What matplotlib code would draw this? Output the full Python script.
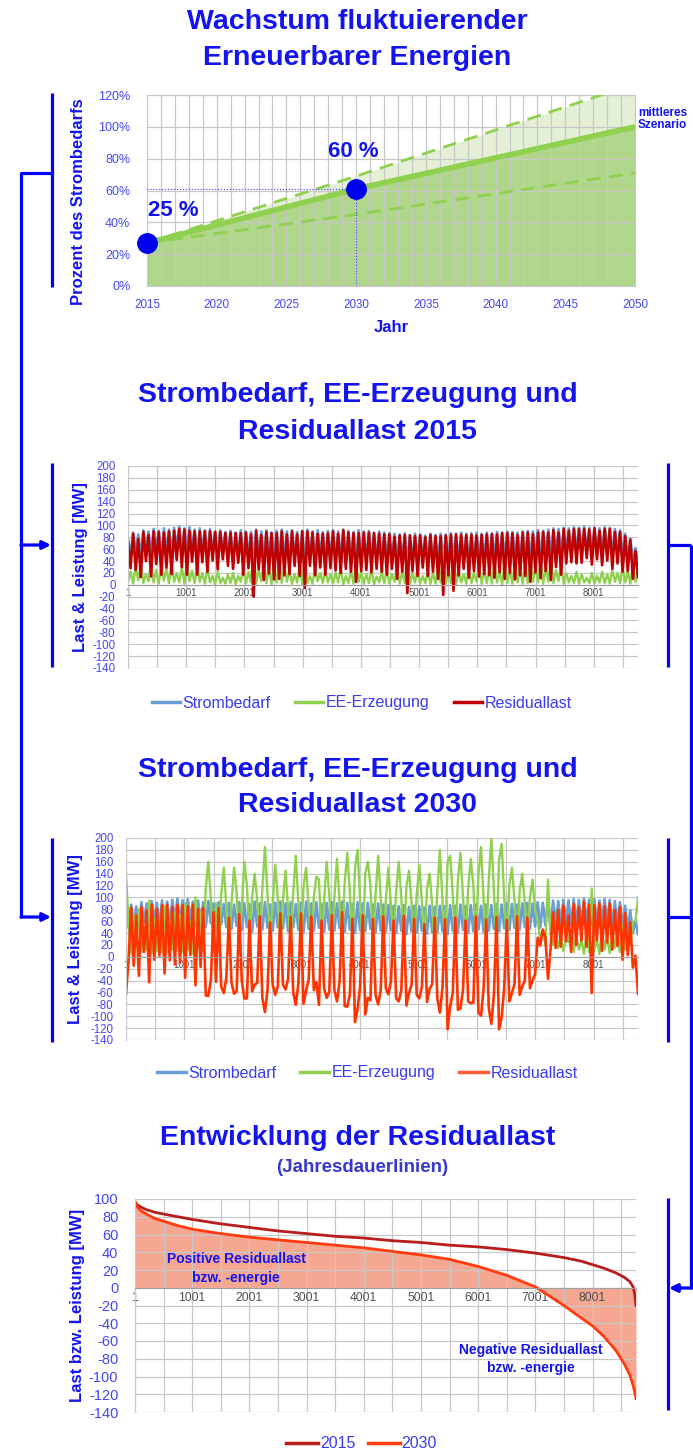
import numpy as np
import matplotlib
matplotlib.use("Agg")
import matplotlib.pyplot as plt
from matplotlib.lines import Line2D

plt.rcParams['font.family'] = ['Liberation Sans', 'DejaVu Sans']
plt.rcParams['axes.unicode_minus'] = False

BLUE = '#1414f0'
TICKBLUE = '#4646f5'
GRID = '#c8c8c8'

# --- Wachstum EE (Prozent des Strombedarfs)
years = [2015, 2030, 2050]
ee_mid = [27, 61, 100]
ee_upper = [27, 69, 127]
ee_lower = [27, 45, 71]
marked_years = [2015, 2030]
marked_share = [27, 61]
marked_labels = ['25 %', '60 %']

# --- Stundenwerte (Stichproben über das Jahr, MW)
demand = [
    78, 50, 88, 55, 85, 48, 92, 58, 90, 52, 94, 60, 91, 50, 95, 57, 93, 54, 96, 62,
    98, 60, 95, 55, 97, 63, 93, 52, 95, 58, 92, 50, 94, 56, 90, 48, 92, 55, 89, 50,
    91, 47, 88, 52, 92, 45, 90, 50, 89, 42, 93, 51, 90, 46, 92, 49, 88, 44, 91, 50,
    93, 48, 90, 43, 92, 50, 89, 45, 91, 41, 93, 47, 90, 44, 92, 49, 89, 42, 91, 46,
    92, 44, 90, 48, 93, 42, 91, 46, 89, 40, 92, 45, 90, 43, 91, 47, 88, 41, 90, 44,
    88, 42, 87, 45, 86, 40, 85, 44, 87, 38, 84, 43, 86, 41, 85, 44, 83, 39, 86, 42,
    84, 40, 86, 43, 85, 38, 87, 44, 86, 41, 88, 45, 86, 40, 87, 43, 88, 46, 86, 42,
    88, 44, 87, 47, 89, 43, 88, 48, 90, 45, 89, 49, 88, 46, 90, 50, 91, 47, 90, 51,
    92, 49, 91, 53, 93, 50, 95, 55, 94, 52, 96, 56, 95, 53, 97, 58, 96, 55, 98, 57,
    96, 54, 97, 58, 95, 55, 97, 59, 96, 52, 94, 56, 92, 50, 86, 45, 78, 40, 62, 38,
]
ee_2015 = [
    5, 22, 2, 30, 8, 35, 3, 18, 6, 38, 4, 25, 2, 33, 7, 28, 3, 36, 5, 20,
    4, 30, 2, 38, 6, 24, 3, 35, 5, 20, 2, 28, 4, 15, 1, 22, 3, 12, 2, 18,
    3, 20, 1, 15, 5, 28, 2, 22, 4, 62, 2, 25, 6, 38, 3, 30, 1, 35, 4, 40,
    3, 32, 5, 25, 2, 18, 4, 30, 1, 46, 3, 15, 2, 28, 6, 20, 3, 25, 4, 18,
    2, 20, 4, 28, 1, 15, 3, 24, 2, 35, 5, 22, 2, 18, 3, 26, 1, 14, 4, 22,
    3, 25, 2, 18, 5, 30, 2, 22, 3, 52, 1, 20, 4, 26, 2, 15, 3, 24, 2, 20,
    2, 30, 4, 60, 2, 22, 3, 54, 1, 25, 4, 18, 2, 28, 3, 20, 5, 32, 2, 24,
    3, 28, 2, 35, 4, 22, 1, 38, 3, 25, 2, 40, 4, 30, 2, 35, 3, 42, 5, 30,
    4, 38, 2, 30, 5, 42, 3, 25, 6, 35, 2, 20, 4, 15, 3, 22, 2, 18, 4, 12,
    3, 20, 2, 15, 4, 22, 3, 18, 2, 25, 5, 20, 3, 28, 4, 22, 2, 30, 5, 25,
]
ee_2030 = [
    140, 55, 5, 70, 15, 80, 8, 50, 12, 95, 6, 65, 10, 48, 8, 85, 5, 60, 12, 75,
    10, 70, 8, 90, 12, 60, 5, 100, 15, 75, 10, 115, 160, 95, 15, 90, 10, 105, 150, 85,
    25, 90, 150, 110, 20, 85, 160, 120, 28, 100, 140, 95, 22, 115, 185, 105, 30, 90, 155, 100,
    20, 95, 145, 80, 25, 110, 170, 90, 18, 120, 150, 85, 22, 100, 135, 130, 28, 95, 160, 105,
    22, 100, 165, 90, 18, 125, 175, 110, 25, 150, 180, 95, 20, 140, 160, 120, 24, 105, 170, 100,
    20, 95, 150, 85, 25, 110, 160, 100, 18, 120, 145, 90, 22, 105, 155, 95, 28, 115, 140, 88,
    18, 110, 180, 95, 22, 160, 170, 105, 20, 130, 175, 100, 25, 115, 165, 120, 20, 140, 185, 95,
    25, 130, 200, 110, 22, 165, 190, 100, 28, 120, 150, 95, 20, 110, 140, 90, 25, 100, 130, 80,
    60, 30, 45, 20, 130, 38, 20, 40, 15, 35, 10, 30, 25, 45, 8, 38, 12, 28, 5, 40,
    8, 115, 10, 30, 5, 45, 12, 35, 6, 40, 15, 38, 8, 55, 12, 42, 20, 58, 60, 100,
]

# --- Jahresdauerlinien der Residuallast
dur_hours = [1, 30, 100, 200, 350, 500, 750, 1001, 1500, 2001, 2500, 3001, 3500, 4001, 4500,
             5001, 5500, 6001, 6500, 7001, 7500, 7800, 8001, 8200, 8400, 8550, 8650, 8710, 8740, 8760]
dur_2015 = [97, 94, 91, 88, 85, 83, 80, 77, 72, 68, 64, 61, 58, 56, 53,
            51, 48, 46, 43, 39, 34, 30, 26, 22, 17, 12, 7, 1, -8, -20]
dur_2030 = [97, 92, 87, 83, 78, 75, 70, 66, 61, 57, 54, 51, 48, 45, 41,
            37, 32, 24, 14, 1, -20, -34, -43, -55, -70, -85, -98, -110, -118, -125]

hour_ticks = [1, 1001, 2001, 3001, 4001, 5001, 6001, 7001, 8001]

C_DEMAND = '#6b9fd3'
C_EE = '#8fd04f'
C_RES15 = '#c00000'
C_RES30 = '#ff3300'

W, H = 693, 1453
fig = plt.figure(figsize=(W / 100, H / 100), dpi=100)


def rect(x0, y0, x1, y1):
    return [x0 / W, 1 - y1 / H, (x1 - x0) / W, (y1 - y0) / H]


# overlay for the connector brackets (pixel coordinates)
deco = fig.add_axes([0, 0, 1, 1], zorder=-1)
deco.set_xlim(0, W)
deco.set_ylim(H, 0)
deco.axis('off')
lk = dict(color='#0000ff', lw=2.3, solid_capstyle='butt')
for x, y0, y1 in [(52, 93, 287), (52, 463, 667), (52, 838, 1042),
                  (668, 463, 667), (668, 838, 1042), (668, 1198, 1410)]:
    deco.plot([x, x], [y0, y1], **lk)
deco.plot([52, 21, 21], [173, 173, 918], **lk)
deco.plot([668, 691], [545, 545], **lk)
deco.plot([668, 691], [917, 917], **lk)
deco.plot([691, 691], [545, 1289], **lk)
ak = dict(arrowstyle='-|>', color='#0000ff', lw=2.3, mutation_scale=12, shrinkA=0, shrinkB=0)
deco.annotate('', xy=(51, 545), xytext=(21, 545), arrowprops=ak)
deco.annotate('', xy=(51, 917), xytext=(21, 917), arrowprops=ak)
deco.annotate('', xy=(669, 1288), xytext=(691, 1288), arrowprops=ak)


def title(lines, ys, size=20.5):
    for t, y in zip(lines, ys):
        fig.text(0.516, 1 - y / H, t, ha='center', va='center', fontsize=size,
                 fontweight='bold', color=BLUE)


title(['Wachstum fluktuierender', 'Erneuerbarer Energien'], [22, 58])
title(['Strombedarf, EE-Erzeugung und', 'Residuallast 2015'], [395, 432])
title(['Strombedarf, EE-Erzeugung und', 'Residuallast 2030'], [770, 805])
title(['Entwicklung der Residuallast'], [1138])
fig.text(0.522, 1 - 1167 / H, '(Jahresdauerlinien)', ha='center', va='center',
         fontsize=13.5, fontweight='bold', color='#3838d0')

# ---------------- chart 1
ax1 = fig.add_axes(rect(147, 95, 635, 286))
ax1.fill_between(years, 0, ee_mid, color='#b0d689', lw=0, zorder=0.5)
ax1.fill_between(years, ee_mid, ee_upper, color='#e3f0d6', lw=0, zorder=0.5)
ax1.plot(years, ee_mid, color=C_EE, lw=4, solid_capstyle='butt', zorder=3)
ax1.plot(years, ee_upper, color=C_EE, lw=2, ls=(0, (5, 3)), zorder=3)
ax1.plot(years, ee_lower, color=C_EE, lw=2, ls=(0, (5, 3)), zorder=3)
ax1.plot([2015, 2030], [marked_share[1]] * 2, color='#4040ff', lw=0.8, ls=':', zorder=3)
ax1.plot([2030, 2030], [0, marked_share[1]], color='#4040ff', lw=0.8, ls=':', zorder=3)
ax1.plot(marked_years, marked_share, 'o', color='#0000f0', ms=14, zorder=5, clip_on=False)
ax1.text(2015.1, 44, marked_labels[0], fontsize=16, fontweight='bold', color=BLUE)
ax1.text(2028.0, 81, marked_labels[1], fontsize=16, fontweight='bold', color=BLUE)
ax1.text(2050.2, 105, 'mittleres\nSzenario', fontsize=8.5, fontweight='bold', color=BLUE,
         va='center', linespacing=1.05, clip_on=False)
ax1.set_xlim(2015, 2050)
ax1.set_ylim(0, 120)
ax1.set_xticks(range(2015, 2051, 5))
ax1.set_xticks(range(2015, 2051), minor=True)
ax1.set_yticks(range(0, 121, 20))
ax1.set_yticklabels([f'{v}%' for v in range(0, 121, 20)])
ax1.grid(True, which='both', color=GRID, lw=0.9)
ax1.tick_params(which='both', length=0, colors=TICKBLUE, labelsize=9)
ax1.tick_params(axis='x', pad=9, labelsize=8.4)
ax1.tick_params(axis='y', pad=12)
for s in ax1.spines.values():
    s.set_color(GRID)
ax1.set_xlabel('Jahr', fontsize=12, fontweight='bold', color=BLUE, labelpad=7)
ax1.set_ylabel('Prozent des Strombedarfs', fontsize=12, fontweight='bold', color=BLUE)
ax1.yaxis.set_label_coords(-0.125, 0.44)

# ---------------- chart 2 and 3
hours = np.linspace(1, 8760, len(demand))
dem = np.array(demand)


def hourly(ax, ee, res_color):
    res = dem - np.array(ee)
    ax.plot(hours, dem, color=C_DEMAND, lw=1.9)
    ax.plot(hours, ee, color=C_EE, lw=1.7)
    ax.plot(hours, res, color=res_color, lw=1.9)
    ax.set_xlim(1, 8760)
    ax.set_ylim(-140, 200)
    ax.set_yticks(range(-140, 201, 20))
    ax.set_xticks(hour_ticks)
    ax.set_xticks(range(501, 8760, 1000), minor=True)
    ax.grid(True, which='both', color=GRID, lw=0.9)
    for k in ['top', 'right']:
        ax.spines[k].set_visible(False)
    ax.spines['left'].set_color(GRID)
    ax.spines['bottom'].set_position(('data', 0))
    ax.spines['bottom'].set_color('#a0a0a0')
    ax.tick_params(which='both', length=0)
    ax.tick_params(axis='y', colors=TICKBLUE, labelsize=8.3, pad=9)
    ax.tick_params(axis='x', colors='#505050', labelsize=7, pad=2)
    ax.set_ylabel('Last & Leistung [MW]', fontsize=12, fontweight='bold', color=BLUE)
    return res


ax2 = fig.add_axes(rect(128, 466, 638, 668))
hourly(ax2, ee_2015, C_RES15)
ax2.yaxis.set_label_coords(-0.078, 0.5)
ax3 = fig.add_axes(rect(126, 838, 638, 1040))
hourly(ax3, ee_2030, C_RES30)
ax3.yaxis.set_label_coords(-0.084, 0.5)


def legend(items, x, y):
    hs = [Line2D([], [], color=c, lw=2.5) for c, _ in items]
    fig.legend(hs, [t for _, t in items], loc='center', bbox_to_anchor=(x, 1 - y / H),
               ncol=len(items), frameon=False, fontsize=11.5, labelcolor='#3a3af0',
               handlelength=1.8, handletextpad=0.15, columnspacing=1.5)


legend([(C_DEMAND, 'Strombedarf'), (C_EE, 'EE-Erzeugung'), (C_RES15, 'Residuallast')], 0.522, 703)
legend([(C_DEMAND, 'Strombedarf'), (C_EE, 'EE-Erzeugung'), ('#ff5a3a', 'Residuallast')], 0.53, 1073)

# ---------------- chart 4
ax4 = fig.add_axes(rect(135, 1199, 636, 1412))
ax4.fill_between(dur_hours, 0, dur_2030, color='#f28a6c', alpha=0.75, lw=0, zorder=0.5)
ax4.plot(dur_hours, dur_2015, color='#b81c1c', lw=2)
ax4.plot(dur_hours, dur_2030, color='#ff3c10', lw=2)
ak4 = dict(ha='center', va='center', fontsize=10, fontweight='bold', color=BLUE)
ax4.text(1770, 32, 'Positive Residuallast', **ak4)
ax4.text(1770, 11, 'bzw. -energie', **ak4)
ax4.text(6920, -70, 'Negative Residuallast', **ak4)
ax4.text(6920, -90, 'bzw. -energie', **ak4)
ax4.set_xlim(1, 8760)
ax4.set_ylim(-140, 100)
ax4.set_yticks(range(-140, 101, 20))
ax4.set_xticks(hour_ticks)
ax4.set_xticks(range(501, 8760, 1000), minor=True)
ax4.grid(True, which='both', color=GRID, lw=0.9)
for k in ['top', 'right']:
    ax4.spines[k].set_visible(False)
ax4.spines['left'].set_color(GRID)
ax4.spines['bottom'].set_position(('data', 0))
ax4.spines['bottom'].set_color('#a0a0a0')
ax4.tick_params(which='both', length=0)
ax4.tick_params(axis='y', colors=TICKBLUE, labelsize=10.5, pad=12)
ax4.tick_params(axis='x', colors='#505050', labelsize=8.8, pad=3)
ax4.set_ylabel('Last bzw. Leistung [MW]', fontsize=12, fontweight='bold', color=BLUE)
ax4.yaxis.set_label_coords(-0.10, 0.5)

hs = [Line2D([], [], color='#b81c1c', lw=2.5), Line2D([], [], color='#ff3c10', lw=2.5)]
fig.legend(hs, ['2015', '2030'], loc='center', bbox_to_anchor=(0.522, 1 - 1444 / H), ncol=2,
           frameon=False, fontsize=11.5, labelcolor='#3a3af0', handlelength=2.0,
           handletextpad=0.1, columnspacing=0.8)

fig.savefig('out.png', dpi=100)
